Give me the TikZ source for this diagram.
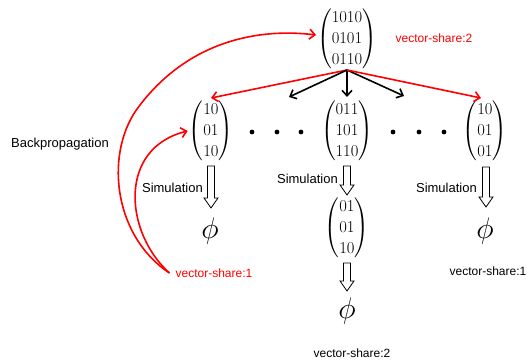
\documentclass[tikz,border=0pt]{standalone}
\usepackage{amsmath}
\usepackage{fontspec}
\setsansfont{Liberation Sans}
\usetikzlibrary{arrows.meta,calc}
\begin{document}
\begin{tikzpicture}[x=1pt,y=-1pt,
  mat/.style={inner sep=0pt,font=\LARGE,scale=0.96},
  lbl/.style={font=\sffamily\fontsize{13}{15}\selectfont,inner sep=0pt},
  vlbl/.style={font=\sffamily\fontsize{12}{14}\selectfont,inner sep=0pt},
  phinode/.style={font=\Huge,inner sep=0pt,scale=1.2},
  redarr/.style={red,line width=1.6pt,-{Straight Barb[length=5.5pt,width=10pt]}},
  blkarr/.style={black,line width=1.6pt,-{Straight Barb[length=5.5pt,width=10pt]}},
  dotc/.style={circle,fill=black,inner sep=0pt,minimum size=4.8pt},
  hollow/.style={draw=black,line width=0.8pt,fill=white}
]
\useasboundingbox (0,0) rectangle (530,364);

% matrices
\node[mat] (top) at (347,39) {$\begin{pmatrix}1010\\0101\\0110\end{pmatrix}$};
\node[mat] (L) at (211,131) {$\begin{pmatrix}10\\01\\10\end{pmatrix}$};
\node[mat] (M) at (347,131) {$\begin{pmatrix}011\\101\\110\end{pmatrix}$};
\node[mat] (R) at (485,131) {$\begin{pmatrix}10\\01\\01\end{pmatrix}$};
\node[mat] (M2) at (347,228) {$\begin{pmatrix}01\\01\\10\end{pmatrix}$};

% phis
\node[phinode] (pL) at (210,231) {$\phi$};
\node[phinode] (pM) at (347,311) {$\phi$};
\node[phinode] (pR) at (485,231) {$\phi$};

% dots
\foreach \x [count=\i] in {252,277,301} \node[dotc] (dl\i) at (\x,132) {};
\foreach \x [count=\i] in {393,419,444} \node[dotc] (dr\i) at (\x,132) {};

% labels
\node[vlbl,text=red] (vtop) at (434,38) {vector-share:2};
\node[vlbl,text=red] (vs1) at (214,273) {vector-share:1};
\node[vlbl] (vr) at (488,271) {vector-share:1};
\node[vlbl] (vb) at (352,353) {vector-share:2};
\node[lbl] (bp) at (60,144) {Backpropagation};
\node[lbl,anchor=east] (sL) at (203,188) {Simulation};
\node[lbl,anchor=east] (sM) at (338,179) {Simulation};
\node[lbl,anchor=east] (sR) at (477,188) {Simulation};

% tree arrows
\coordinate (root) at (347,70);
\draw[redarr] (root) -- (211,98);
\draw[blkarr] (root) -- (289,97);
\draw[blkarr] (root) -- (347,97);
\draw[blkarr] (root) -- (404,96);
\draw[redarr] (root) -- (481,98);

% hollow arrows: (x, top, headstart, tip)
\newcommand{\hollowarr}[4]{%
  \draw[hollow] (#1-3.5,#2) -- (#1+3.5,#2) -- (#1+3.5,#3) -- (#1+7,#3) -- (#1,#4)
    -- (#1-7,#3) -- (#1-3.5,#3) -- cycle;}
\hollowarr{211}{166}{198}{208}
\hollowarr{347}{166}{185}{195}
\hollowarr{347}{263}{281}{291}
\hollowarr{486}{167}{197}{207}

% backpropagation curves
\coordinate (bs) at ($(vs1.west)+(-6,0)$);
\draw[redarr] (bs) .. controls (112,235) and (104,150) .. (140,105)
  .. controls (190,40) and (260,28) .. ($(top.west)+(-1,-4)$);
\draw[redarr] (bs) .. controls (124,232) and (118,148) .. ($(L.west)+(-1,0)$);
\end{tikzpicture}
\end{document}
